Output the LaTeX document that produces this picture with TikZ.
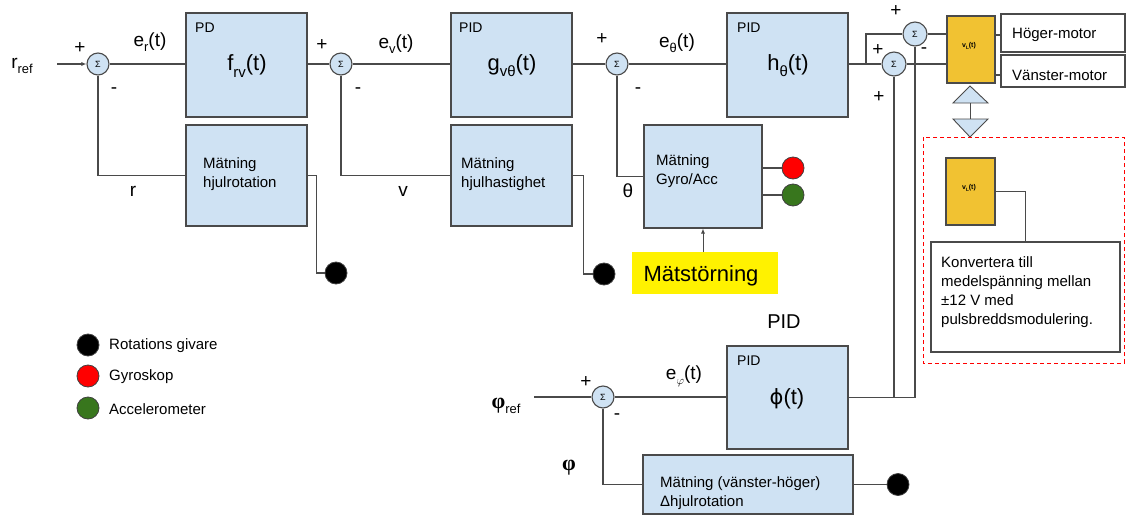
\documentclass[tikz,border=0pt]{standalone}
\usepackage{fontspec}
\setmainfont{Liberation Sans}
\newfontfamily\serifb{Liberation Serif}
\newfontfamily\dvs{DejaVu Sans}
\usetikzlibrary{arrows.meta}
\definecolor{boxC}{HTML}{CFE2F3}
\definecolor{lineC}{HTML}{4A4A4A}
\definecolor{vlC}{HTML}{F1C232}
\definecolor{grnC}{HTML}{38761D}
\newcommand\myfs[1]{\fontsize{#1}{#1}\selectfont}
\newcommand\lsub[1]{\raisebox{-0.28em}{\scalebox{0.68}{#1}}}
\begin{document}
\begin{tikzpicture}[x=1pt,y=-1pt,
  blk/.style={draw=lineC, fill=boxC, line width=1.1pt, inner sep=0},
  wire/.style={draw=lineC, line width=1.1pt},
  sumn/.style={circle, draw=lineC, fill=boxC, line width=1.1pt, minimum size=22pt, inner sep=0, font=\myfs{9}},
  dotn/.style={circle, draw=black!75, line width=0.8pt, minimum size=22pt, inner sep=0},
  title/.style={font=\myfs{14}, inner sep=0, anchor=base west},
  big/.style={font=\myfs{22}, inner sep=0},
  elab/.style={font=\myfs{19}, inner sep=0},
  sgn/.style={font=\myfs{19}, inner sep=0},
  txt/.style={font=\fontsize{15}{19}\selectfont, inner sep=0, align=left, anchor=north west},
  vlab/.style={font=\bfseries\myfs{7}, inner sep=0}
]
\useasboundingbox (0,0) rectangle (1126,519);
% ---------- top row ----------
\node[elab] (rref) at (22,66) {r\lsub{ref}};
\coordinate (rin) at (57,64);
\node[sumn] (s1) at (98,64) {Σ};
\node[sgn] (s1p) at (80,48) {+};
\node[sgn] (s1m) at (114,91) {-};
\node[elab] (er) at (150,42) {e\lsub{r}(t)};
\node[blk, minimum width=121pt, minimum height=104pt] (fbox) at (246.5,65) {};
\node[title] (fPD) at (195,33) {PD};
\node[big] (fl) at (247,66) {f\lsub{rv}(t)};
\node[blk, minimum width=121pt, minimum height=101pt] (mr) at (246.5,175.5) {};
\node[txt] (mrt) at (203,157) {Mätning\\hjulrotation};
\node[elab] (rl) at (133,191) {r};
\node[dotn, fill=black] (d1) at (336,273) {};

\node[sumn] (s2) at (341,64) {Σ};
\node[sgn] (s2p) at (322,45) {+};
\node[sgn] (s2m) at (358,91) {-};
\node[elab] (ev) at (396,44) {e\lsub{v}(t)};
\node[blk, minimum width=121pt, minimum height=104pt] (gbox) at (511.5,65) {};
\node[title] (gPID) at (459,33) {PID};
\node[big] (gl) at (512,66) {g\lsub{vθ}(t)};
\node[blk, minimum width=121pt, minimum height=101pt] (mh) at (511.5,175.5) {};
\node[txt] (mht) at (461,157) {Mätning\\hjulhastighet};
\node[elab] (vl) at (403,191) {v};
\node[dotn, fill=black] (d2) at (604,274) {};

\node[sumn] (s3) at (617,64) {Σ};
\node[sgn] (s3p) at (602,39) {+};
\node[sgn] (s3m) at (638,91) {-};
\node[elab] (eth) at (677,43) {e\lsub{θ}(t)};
\node[blk, minimum width=121pt, minimum height=104pt] (hbox) at (787.5,65) {};
\node[title] (hPID) at (737,33) {PID};
\node[big] (hl) at (788,66) {h\lsub{θ}(t)};
\node[blk, minimum width=118pt, minimum height=103pt] (gy) at (703,176.5) {};
\node[txt] (gyt) at (656,154) {Mätning\\Gyro/Acc};
\node[elab] (thl) at (628,191) {θ};
\node[dotn, fill=red] (dr) at (793,168) {};
\node[dotn, fill=grnC] (dg) at (793,195) {};
\node[fill=yellow, minimum width=146pt, minimum height=42pt, inner sep=0] (dist) at (705,273) {};
\node[font=\myfs{22}, inner sep=0] (distt) at (701,276) {Mätstörning};

% right part
\coordinate (j1) at (866,64);
\node[sumn, minimum size=24pt] (s5) at (894,64) {Σ};
\node[sumn, minimum size=24pt] (s6) at (915,34) {Σ};
\node[sgn] (s6p) at (896,11) {+};
\node[sgn] (s6m) at (924,51) {-};
\node[sgn] (s5p) at (878,50) {+};
\node[sgn] (s5p2) at (879,97) {+};
\node[draw=lineC, fill=vlC, line width=1.1pt, minimum width=48pt, minimum height=67pt, inner sep=0] (vlb) at (971,49.5) {};
\node[vlab] (vlbt) at (969,46) {v\lsub{L}(t)};
\node[draw=lineC, line width=1.1pt, minimum width=124pt, minimum height=38pt, inner sep=0] (hm) at (1063,33) {};
\node[font=\myfs{15}, inner sep=0, anchor=west] (hmt) at (1012,35) {Höger-motor};
\node[draw=lineC, line width=1.1pt, minimum width=124pt, minimum height=32pt, inner sep=0] (vm) at (1063,71) {};
\node[font=\myfs{15}, inner sep=0, anchor=west] (vmt) at (1012,75) {Vänster-motor};
\coordinate (tu) at (970,103);
\coordinate (td) at (970,119);
\draw[wire, fill=boxC, line width=0.9pt] (953,103) -- (970,86) -- (988,103) -- cycle;
\draw[wire, fill=boxC, line width=0.9pt] (953,119) -- (970,137) -- (988,119) -- cycle;
\draw[wire, line width=0.9pt] (tu) -- (td);

% dashed region
\draw[red, line width=0.9pt, dash pattern=on 4pt off 3pt] (923,137) rectangle (1124,363);
\node[draw=lineC, fill=vlC, line width=1.1pt, minimum width=49pt, minimum height=67pt, inner sep=0] (vl2) at (970.5,191.5) {};
\node[vlab] (vl2t) at (969,188) {v\lsub{L}(t)};
\node[draw=lineC, fill=white, line width=1.1pt, minimum width=189pt, minimum height=110pt, inner sep=0] (kb) at (1025.5,297) {};
\node[txt] (kbt) at (941,256) {Konvertera till\\medelspänning mellan\\±12 V med\\pulsbreddsmodulering.};

% ---------- bottom ----------
\node[font=\myfs{20}, inner sep=0] (pidl) at (784,322) {PID};
\node[elab] (phiref) at (506,406) {{\serifb\bfseries\fontsize{22}{22}\selectfont φ}\lsub{ref}};
\coordinate (pin) at (534,397);
\node[sumn] (s7) at (603,397) {Σ};
\node[sgn] (s7p) at (586,382) {+};
\node[sgn] (s7m) at (617,417) {-};
\node[elab] (ephi) at (684,376) {e\lsub{$\varphi$}(t)};
\node[blk, minimum width=121pt, minimum height=103pt] (pb) at (787.5,397.5) {};
\node[title] (pPID) at (737,365) {PID};
\node[big] (pl) at (787,399) {{\dvs\fontsize{21}{21}\selectfont ϕ}(t)};
\node[font=\serifb\bfseries\myfs{22}, inner sep=0] (phil) at (569,468) {φ};
\node[blk, minimum width=210pt, minimum height=59pt] (dm) at (748,484.5) {};
\node[txt] (dmt) at (660,476) {Mätning (vänster-höger)\\Δhjulrotation};
\node[dotn, fill=black] (d3) at (898,484.5) {};

% legend
\node[dotn, fill=black] (l1) at (88,345) {};
\node[dotn, fill=red] (l2) at (88,376) {};
\node[dotn, fill=grnC] (l3) at (88,408) {};
\node[font=\myfs{15}, inner sep=0, anchor=west] (l1t) at (109,346) {Rotations givare};
\node[font=\myfs{15}, inner sep=0, anchor=west] (l2t) at (109,377) {Gyroskop};
\node[font=\myfs{15}, inner sep=0, anchor=west] (l3t) at (109,409) {Accelerometer};

% ---------- wires ----------
\draw[wire, -{Latex[length=5pt,width=4pt]}] (rin) -- (s1.west);
\draw[wire] (s1.east) -- (s1.east -| fbox.west);
\draw[wire] (s1.south) |- (mr.west);
\draw[wire] (mr.east) -- ++(9,0) |- (d1.west);
\draw[wire] (fbox.east |- s2) -- (s2.west);
\draw[wire] (s2.east) -- (s2.east -| gbox.west);
\draw[wire] (s2.south) |- (mh.west);
\draw[wire] (mh.east) -- ++(11,0) |- (d2.west);
\draw[wire] (gbox.east |- s3) -- (s3.west);
\draw[wire] (s3.east) -- (s3.east -| hbox.west);
\draw[wire] (s3.south) |- (gy.west);
\draw[wire] (gy.east |- dr) -- (dr.west);
\draw[wire] (gy.east |- dg) -- (dg.west);
\draw[wire, line width=0.8pt, -{Latex[length=5pt,width=4pt]}] (dist.north -| gy.south) -- (gy.south);
\draw[wire] (hbox.east |- s5) -- (s5.west);
\draw[wire] (j1) |- (s6.west);
\draw[wire] (s6.east) -- (s6.east -| vlb.west);
\draw[wire] (s5.east) -- (s5.east -| vlb.west);
\draw[wire] (vlb.east |- hmt) -- (hm.west |- hmt);
\draw[wire] (vlb.east |- vmt) -- (vm.west |- vmt);
\draw[wire] (vl2.east) -| (kb.north);
\draw[wire] (pin) -- (s7.west);
\draw[wire] (s7.east) -- (s7.east -| pb.west);
\draw[wire] (s7.south) |- (dm.west);
\draw[wire] (dm.east) -- (d3.west);
\draw[wire] (pb.east) -- (pb.east -| s6.south) -- (s6.south);
\draw[wire] (s5.south) -- (s5.south |- pb.east);
\end{tikzpicture}
\end{document}
